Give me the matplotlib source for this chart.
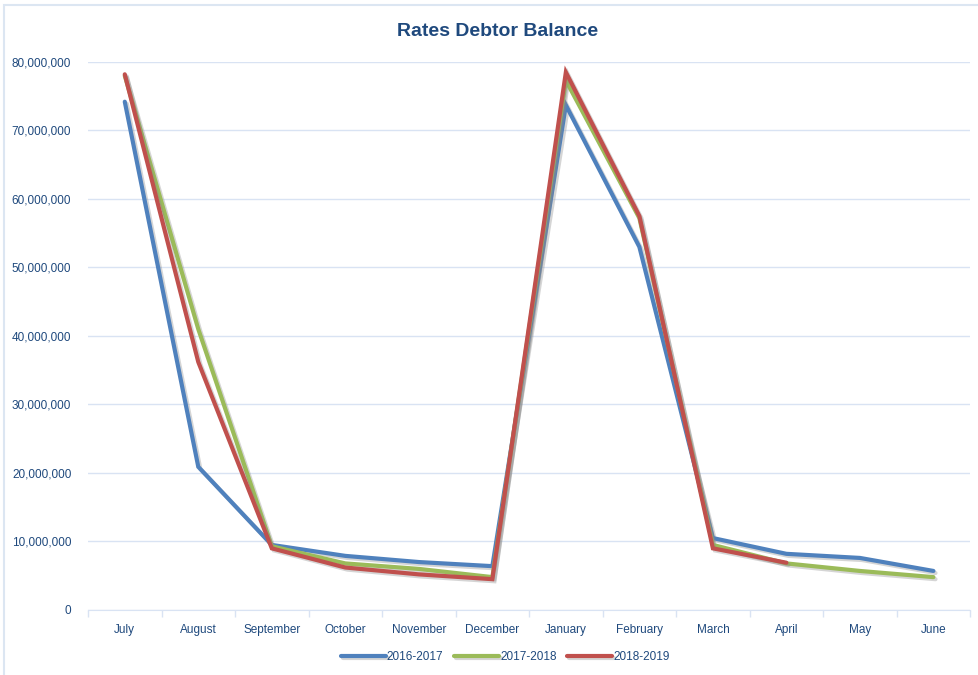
import matplotlib.pyplot as plt
import matplotlib.patheffects as pe
from matplotlib.patches import Rectangle
from matplotlib.ticker import FuncFormatter, FixedLocator
import numpy as np

months = ['July', 'August', 'September', 'October', 'November', 'December',
          'January', 'February', 'March', 'April', 'May', 'June']
fy_2016 = [74.2e6, 20.9e6, 9.5e6, 7.9e6, 7.0e6, 6.4e6, 73.7e6, 53.0e6, 10.5e6, 8.2e6, 7.6e6, 5.7e6]
fy_2017 = [78.0e6, 41.0e6, 9.3e6, 6.8e6, 6.0e6, 4.8e6, 77.3e6, 57.2e6, 9.5e6, 6.8e6, 5.7e6, 4.8e6]
fy_2018 = [78.2e6, 36.2e6, 9.0e6, 6.2e6, 5.2e6, 4.5e6, 78.5e6, 57.5e6, 9.0e6, 6.9e6, np.nan, np.nan]
labels = ['2016-2017', '2017-2018', '2018-2019']
colors = ['#4F81BD', '#9BBB59', '#C0504D']

plt.rcParams['font.family'] = ['Liberation Sans', 'DejaVu Sans']
txt = '#1F497D'
grid_c = '#D9E3F3'

fig = plt.figure(figsize=(9.79, 6.75), dpi=100)
ax = fig.add_axes([0.0899, 0.0963, 0.9011, 0.8119])

# chart frame
fig.patches.append(Rectangle((0.004, -0.01), 1.0, 1.003, transform=fig.transFigure,
                             fill=False, edgecolor='#DCE6F2', linewidth=1.5))

x = np.arange(len(months))
shadow = [pe.SimpleLineShadow(offset=(1.5, -1.5), shadow_color='#888888', alpha=0.35), pe.Normal()]
for vals, lab, c in zip([fy_2016, fy_2017, fy_2018], labels, colors):
    ax.plot(x, vals, color=c, linewidth=3, label=lab, solid_joinstyle='miter',
            solid_capstyle='round', path_effects=shadow, zorder=3)

ax.set_xlim(-0.5, 11.5)
ax.set_ylim(0, 80e6)
ax.set_yticks(np.arange(0, 80e6 + 1, 10e6))
ax.yaxis.set_major_formatter(FuncFormatter(lambda v, p: '{:,.0f}'.format(v)))
ax.grid(axis='y', color=grid_c, linewidth=1)
ax.set_axisbelow(True)

ax.set_xticks(x)
ax.set_xticklabels(months)
ax.xaxis.set_minor_locator(FixedLocator(np.arange(-0.5, 12, 1)))
ax.tick_params(axis='x', which='major', length=0, pad=10, labelsize=8.5, labelcolor=txt)
ax.tick_params(axis='x', which='minor', length=5, color=grid_c, width=1)
ax.tick_params(axis='y', length=0, pad=12, labelsize=8.5, labelcolor=txt)

for s in ['top', 'right', 'left']:
    ax.spines[s].set_visible(False)
ax.spines['bottom'].set_color(grid_c)

fig.text(0.508, 0.953, 'Rates Debtor Balance', ha='center', va='center',
         fontsize=14, fontweight='bold', color=txt)

fig.legend(loc='center', bbox_to_anchor=(0.516, 0.026), ncol=3, frameon=False,
           fontsize=8.5, labelcolor=txt, handlelength=3.8, handletextpad=0.1, columnspacing=0.9)

fig.savefig('out.png', dpi=100)
